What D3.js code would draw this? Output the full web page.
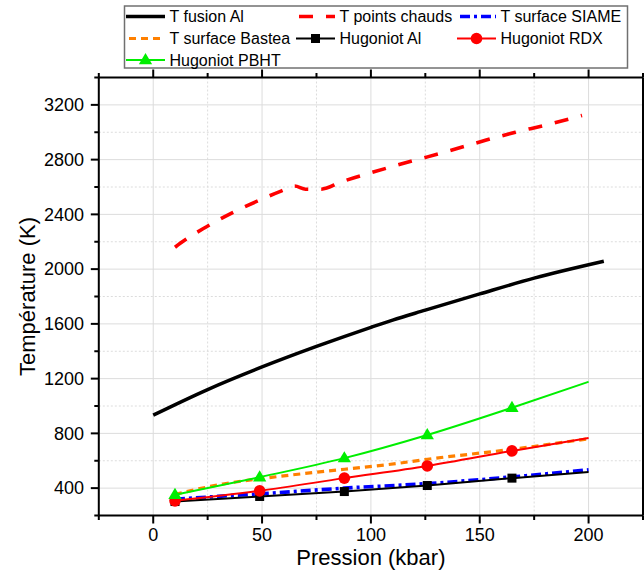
<!DOCTYPE html>
<html><head><meta charset="utf-8">
<script src="https://cdn.jsdelivr.net/npm/d3@7"></script>
<style>body{margin:0;background:#fff}svg{display:block}</style>
</head><body><svg id="c" width="644" height="572"></svg>
<script>
// ---- data (pressure kbar, temperature K) ----
const xMajorTicks = [0, 50, 100, 150, 200];
const xMinorTicks = [-25, 25, 75, 125, 175, 225];
const yMajorTicks = [400, 800, 1200, 1600, 2000, 2400, 2800, 3200];
const yMinorTicks = [200, 600, 1000, 1400, 1800, 2200, 2600, 3000, 3400];

const fusionAl = [[0,933],[25,1120],[50,1285],[75,1435],[100,1575],[110,1628],[125,1700],[150,1819],[175,1934],[207,2057]];
const pointsChauds = [[10,2160],[12.4,2189],[24.3,2308],[36.7,2415],[49,2505],[59,2572],[65,2607],[70,2584],[77,2584],[86.5,2638],[99.6,2702],[113,2764],[126,2820],[139.6,2881],[153,2943],[166.4,3000],[179.6,3050],[193.2,3106],[197,3122]];
const surfaceSIAME = [[10,318],[30,340],[48.9,358],[87.8,400],[125.9,433],[164.8,482],[200,534]];
const surfaceBastea = [[10,355],[32,430],[55,480],[88,538],[108,572],[126,611],[165,684],[200,761]];
const hugoniotAl = [[10,302],[48.9,339],[87.8,375],[125.9,419],[164.8,473],[200,517]];
const hugoniotRDX = [[10,307],[48.9,380],[87.8,473],[125.9,562],[164.8,672],[200,767]];
const hugoniotPBHT = [[10,351],[48.9,480],[87.8,619],[125.9,788],[164.8,987],[200,1177]];
const markerPressures = [10, 48.9, 87.8, 125.9, 164.8];

const seriesNames = ["T fusion Al","T points chauds","T surface SIAME","T surface Bastea","Hugoniot Al","Hugoniot RDX","Hugoniot PBHT"];

// ---- styles ----
const FONT = "'Liberation Sans', Arial, Helvetica, sans-serif";
const series = [
  {name:seriesNames[0], data:fusionAl,      color:"#000000", w:3.5, dash:null,        marker:null},
  {name:seriesNames[1], data:pointsChauds,  color:"#ff0000", w:3.6, dash:"14,13",     marker:null},
  {name:seriesNames[2], data:surfaceSIAME,  color:"#0000ff", w:3.6, dash:"10,4,3,4",  marker:null},
  {name:seriesNames[3], data:surfaceBastea, color:"#ff8000", w:3.2, dash:"7,5",       marker:null},
  {name:seriesNames[4], data:hugoniotAl,    color:"#000000", w:2,   dash:null,        marker:"square"},
  {name:seriesNames[5], data:hugoniotRDX,   color:"#ff0000", w:2,   dash:null,        marker:"circle"},
  {name:seriesNames[6], data:hugoniotPBHT,  color:"#00ee00", w:2,   dash:null,        marker:"triangle"}
];

const svg = d3.select("#c");
const L = 98.8, R = 643, T = 77.5, B = 515.5;
const x = d3.scaleLinear().domain([-25, 225]).range([L, R]);
const y = d3.scaleLinear().domain([200, 3400]).range([B, T]);

// grid
const g = svg.append("g");
g.selectAll(".vmaj").data(xMajorTicks).join("line")
  .attr("x1", d=>x(d)).attr("x2", d=>x(d)).attr("y1", T).attr("y2", B)
  .attr("stroke", "#dcdcdc").attr("stroke-width", 1);
g.selectAll(".vmin").data(xMinorTicks.slice(1,-1)).join("line")
  .attr("x1", d=>x(d)).attr("x2", d=>x(d)).attr("y1", T).attr("y2", B)
  .attr("stroke", "#dcdcdc").attr("stroke-width", 1).attr("stroke-dasharray", "2,2");
g.selectAll(".hmaj").data(yMajorTicks).join("line")
  .attr("y1", d=>y(d)).attr("y2", d=>y(d)).attr("x1", L).attr("x2", R)
  .attr("stroke", "#dcdcdc").attr("stroke-width", 1);
g.selectAll(".hmin").data(yMinorTicks.slice(1,-1)).join("line")
  .attr("y1", d=>y(d)).attr("y2", d=>y(d)).attr("x1", L).attr("x2", R)
  .attr("stroke", "#dcdcdc").attr("stroke-width", 1).attr("stroke-dasharray", "2,2");

// clip
svg.append("clipPath").attr("id","clip").append("rect")
  .attr("x", L).attr("y", T).attr("width", R-L).attr("height", B-T);
const plot = svg.append("g").attr("clip-path","url(#clip)");

const line = d3.line().x(d=>x(d[0])).y(d=>y(d[1])).curve(d3.curveMonotoneX);

function drawMarker(sel, type, cx, cy, color){
  if(type==="square"){
    sel.append("rect").attr("x", cx-4.5).attr("y", cy-4.5).attr("width", 9).attr("height", 9).attr("fill", color);
  } else if(type==="circle"){
    sel.append("circle").attr("cx", cx).attr("cy", cy).attr("r", 5.8).attr("fill", color);
  } else if(type==="triangle"){
    const s = 7;
    sel.append("path").attr("d", `M${cx},${cy-s} L${cx+s*0.95},${cy+s*0.6} L${cx-s*0.95},${cy+s*0.6} Z`).attr("fill", color);
  }
}

series.forEach(s=>{
  const p = plot.append("path").datum(s.data).attr("d", line)
    .attr("fill","none").attr("stroke", s.color).attr("stroke-width", s.w)
    .attr("stroke-linejoin","round");
  if(s.dash) p.attr("stroke-dasharray", s.dash);
});
series.forEach(s=>{
  if(!s.marker) return;
  s.data.filter(d=>markerPressures.includes(d[0])).forEach(d=>{
    drawMarker(plot, s.marker, x(d[0]), y(d[1]), s.color);
  });
});

// axes frame
const ax = svg.append("g").attr("stroke","#000").attr("stroke-width",2).attr("fill","none");
ax.append("line").attr("x1", L).attr("x2", R).attr("y1", B).attr("y2", B);
ax.append("line").attr("x1", L).attr("x2", R).attr("y1", T).attr("y2", T);
ax.append("line").attr("x1", L).attr("x2", L).attr("y1", T).attr("y2", B);
ax.append("line").attr("x1", R).attr("x2", R).attr("y1", T).attr("y2", B);

// ticks
xMajorTicks.forEach(v=>{
  ax.append("line").attr("x1", x(v)).attr("x2", x(v)).attr("y1", B).attr("y2", B+8);
  ax.append("line").attr("x1", x(v)).attr("x2", x(v)).attr("y1", T).attr("y2", T-8);
});
xMinorTicks.forEach(v=>{
  ax.append("line").attr("x1", x(v)).attr("x2", x(v)).attr("y1", B).attr("y2", B+4.5);
  ax.append("line").attr("x1", x(v)).attr("x2", x(v)).attr("y1", T).attr("y2", T-4.5);
});
yMajorTicks.forEach(v=>{
  ax.append("line").attr("x1", L).attr("x2", L-8).attr("y1", y(v)).attr("y2", y(v));
});
yMinorTicks.forEach(v=>{
  ax.append("line").attr("x1", L).attr("x2", L-4.5).attr("y1", y(v)).attr("y2", y(v));
});

// tick labels
svg.append("g").selectAll("text").data(xMajorTicks).join("text")
  .attr("x", d=>x(d)).attr("y", 541).attr("text-anchor","middle")
  .attr("font-family", FONT).attr("font-size", 18).text(d=>d);
svg.append("g").selectAll("text").data(yMajorTicks).join("text")
  .attr("x", 84).attr("y", d=>y(d)).attr("dy","0.35em").attr("text-anchor","end")
  .attr("font-family", FONT).attr("font-size", 18).text(d=>d);

// axis titles
svg.append("text").attr("x", (L+R)/2).attr("y", 565).attr("text-anchor","middle")
  .attr("font-family", FONT).attr("font-size", 22).text("Pression (kbar)");
svg.append("text").attr("transform", `translate(35,${(T+B)/2}) rotate(-90)`)
  .attr("text-anchor","middle").attr("font-family", FONT).attr("font-size", 22)
  .text("Température (K)");

// legend
const lg = svg.append("g");
lg.append("rect").attr("x", 124.5).attr("y", 6).attr("width", 503).attr("height", 62)
  .attr("fill","#fff").attr("stroke","#707070").attr("stroke-width",1.5);
const colX = [126, 296, 457];
const rowY = [16.5, 38.5, 60];
series.forEach((s,i)=>{
  const cx0 = colX[i%3], cy = rowY[Math.floor(i/3)];
  const ln = lg.append("line").attr("x1", cx0).attr("x2", cx0+39).attr("y1", cy).attr("y2", cy)
    .attr("stroke", s.color).attr("stroke-width", s.w);
  if(s.dash) ln.attr("stroke-dasharray", s.dash).attr("stroke-dashoffset", -3);
  if(s.marker) drawMarker(lg, s.marker, cx0+19.5, cy, s.color);
  lg.append("text").attr("x", cx0+43.5).attr("y", cy+5.8)
    .attr("font-family", FONT).attr("font-size", 16).text(s.name);
});
</script></body></html>
